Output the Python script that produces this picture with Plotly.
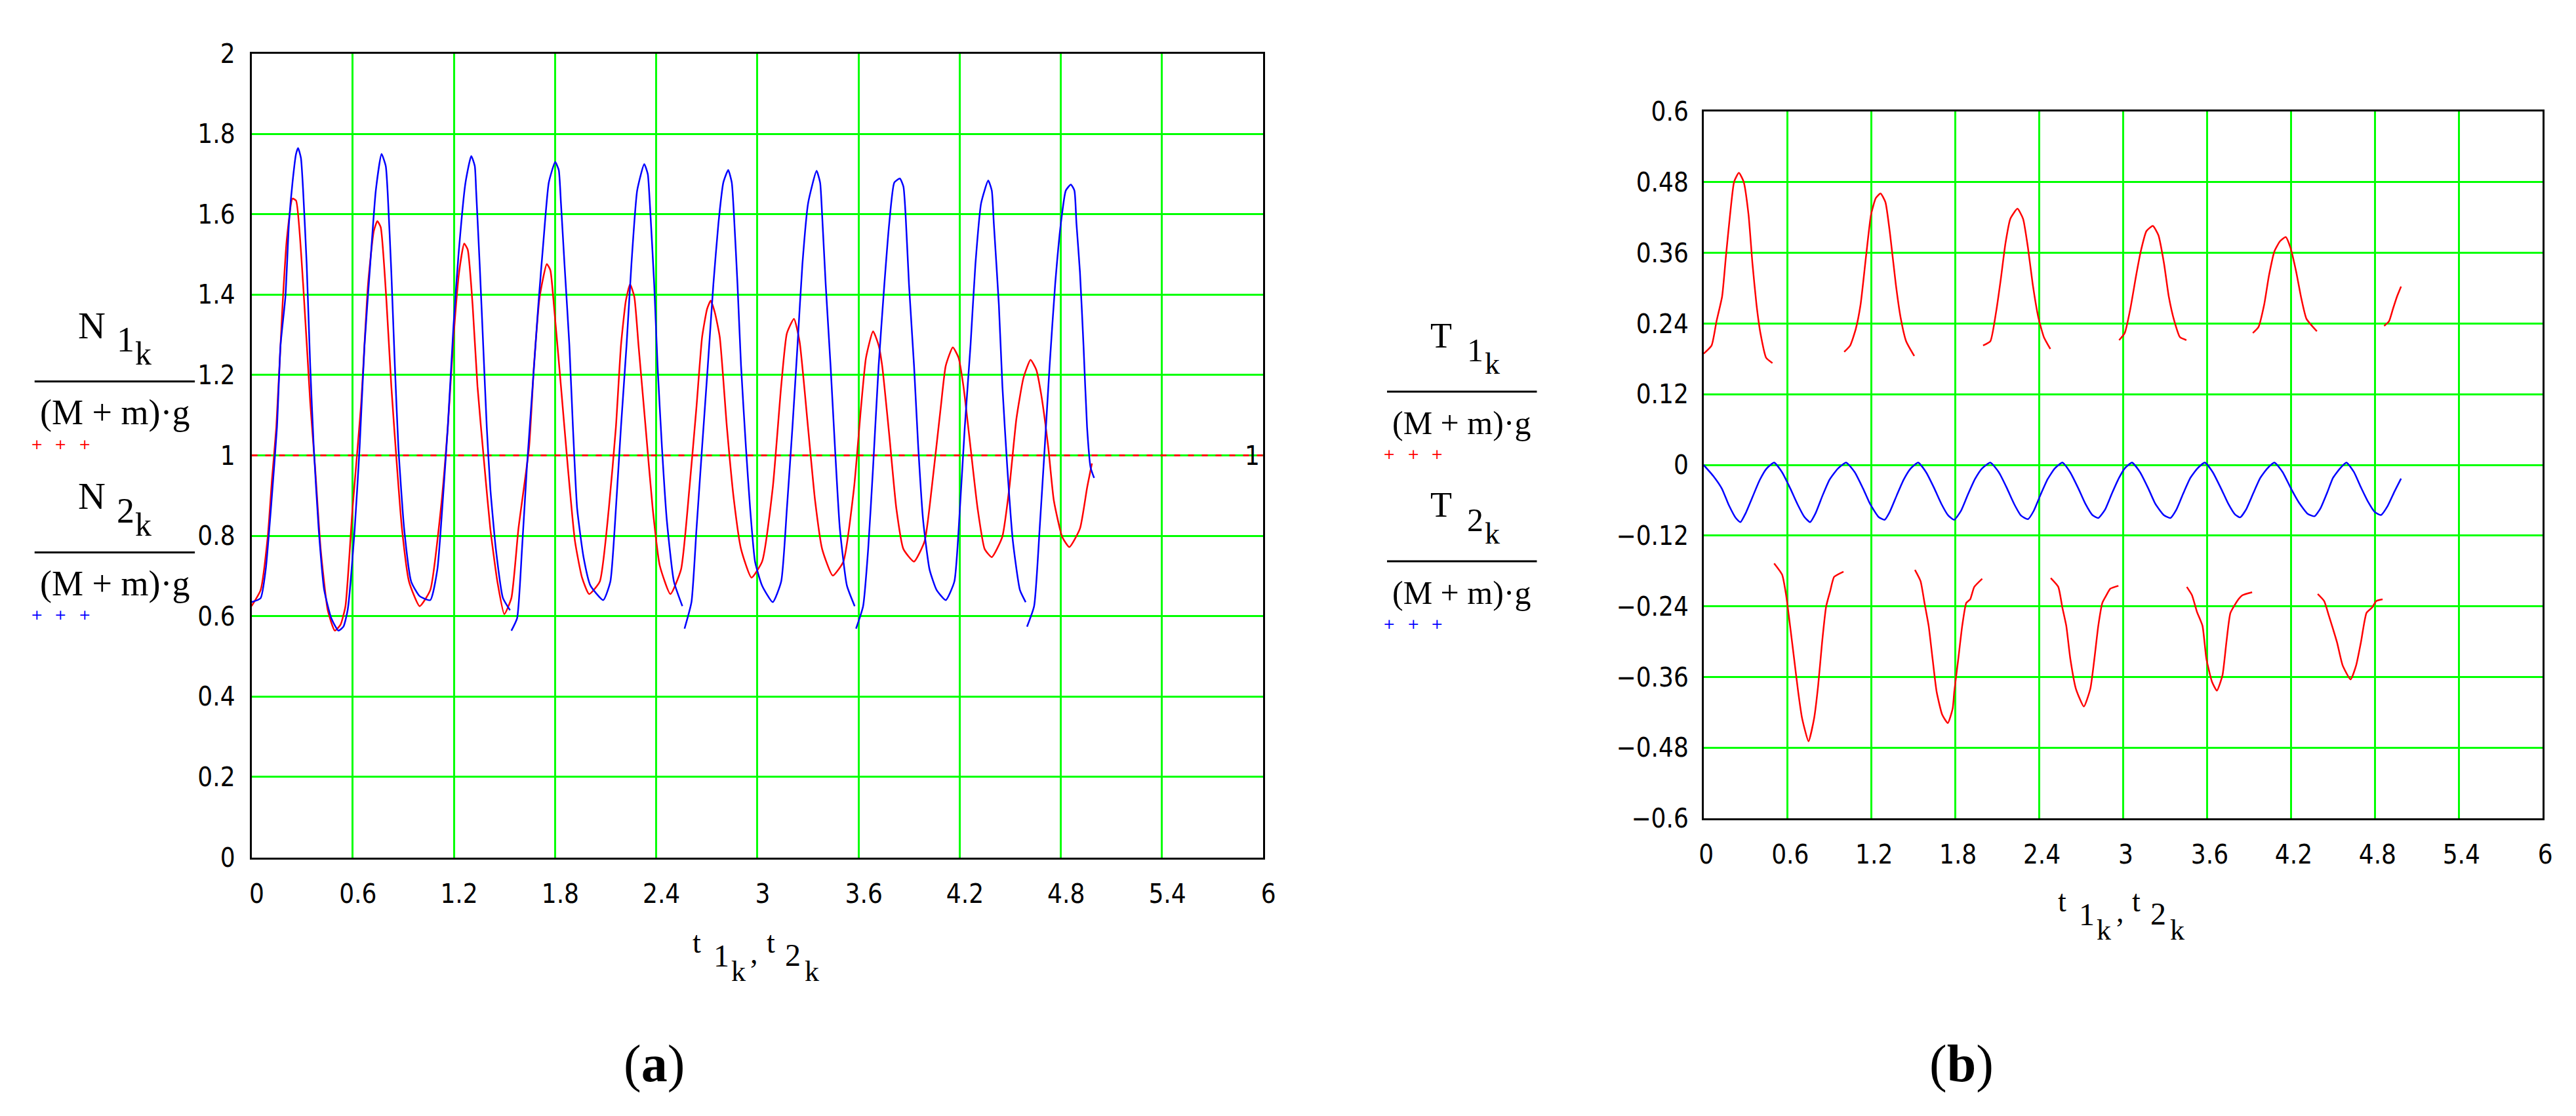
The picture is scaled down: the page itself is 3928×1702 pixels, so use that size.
import plotly.graph_objects as go

# ---------------- data ----------------
# panel (a): N1/((M+m)g)  (red)
t_n1 = [0.000, 0.054, 0.096, 0.121, 0.147, 0.184, 0.209, 0.243, 0.264, 0.306, 0.348, 0.377, 0.410, 0.452, 0.494,
        0.528, 0.557, 0.599, 0.649, 0.691, 0.725, 0.746, 0.766, 0.800, 0.829, 0.863, 0.892, 0.934, 0.997,
        1.060, 1.123, 1.164, 1.198, 1.231, 1.261, 1.282, 1.311, 1.340, 1.382, 1.416, 1.458, 1.499,
        1.541, 1.583, 1.646, 1.675, 1.709, 1.751, 1.772, 1.793, 1.835, 1.876, 1.918, 1.960, 2.002,
        2.065, 2.119, 2.161, 2.191, 2.220, 2.245, 2.270, 2.295, 2.337, 2.379, 2.421, 2.484,
        2.547, 2.597, 2.639, 2.672, 2.702, 2.723, 2.748, 2.777, 2.819, 2.861, 2.903, 2.965,
        3.028, 3.091, 3.141, 3.175, 3.217, 3.250, 3.300, 3.342, 3.384, 3.447,
        3.510, 3.573, 3.615, 3.644, 3.686, 3.719, 3.740, 3.782, 3.824, 3.866, 3.929,
        3.992, 4.034, 4.088, 4.117, 4.159, 4.193, 4.222, 4.264, 4.306, 4.348, 4.390,
        4.452, 4.494, 4.536, 4.578, 4.620, 4.654, 4.683, 4.725, 4.758, 4.808, 4.850,
        4.913, 4.955, 4.984]
n1 = [0.625, 0.665, 0.797, 0.939, 1.071, 1.375, 1.537, 1.639, 1.634, 1.426, 1.132, 0.970, 0.767, 0.615, 0.564,
      0.579, 0.625, 0.868, 1.122, 1.426, 1.558, 1.583, 1.568, 1.385, 1.172, 0.970, 0.818, 0.686, 0.625,
      0.665, 0.868, 1.071, 1.294, 1.456, 1.527, 1.512, 1.375, 1.172, 0.970, 0.818, 0.686, 0.605,
      0.645, 0.818, 1.020, 1.223, 1.395, 1.476, 1.461, 1.375, 1.172, 0.970, 0.787, 0.696, 0.655,
      0.686, 0.868, 1.071, 1.274, 1.385, 1.426, 1.395, 1.274, 1.071, 0.868, 0.726, 0.655,
      0.716, 0.919, 1.122, 1.294, 1.365, 1.385, 1.355, 1.294, 1.071, 0.888, 0.767, 0.696,
      0.736, 0.919, 1.172, 1.304, 1.340, 1.284, 1.071, 0.888, 0.767, 0.701,
      0.736, 0.919, 1.122, 1.243, 1.309, 1.274, 1.223, 1.051, 0.868, 0.767, 0.736,
      0.787, 0.919, 1.122, 1.223, 1.269, 1.243, 1.172, 1.020, 0.868, 0.767, 0.747,
      0.797, 0.919, 1.091, 1.193, 1.238, 1.213, 1.152, 1.020, 0.888, 0.797, 0.772,
      0.818, 0.919, 0.980]

# panel (a): N2/((M+m)g)  (blue, None = break in the curve)
t_n2 = [0.000, 0.054, 0.084, 0.117, 0.151, 0.172, 0.201, 0.222, 0.243, 0.264, 0.276, 0.293, 0.306, 0.327, 0.348,
        0.369, 0.398, 0.431, 0.473, 0.515, 0.545, 0.570, 0.612, 0.641, 0.670, 0.704, 0.737, 0.771, 0.796,
        0.808, 0.829, 0.850, 0.871, 0.905, 0.947, 0.997, 1.060, 1.102, 1.131, 1.164, 1.198, 1.227, 1.269,
        1.303, 1.324, 1.332, 1.353, 1.374, 1.395, 1.416, 1.449, 1.491, 1.533, None,
        1.541, 1.575, 1.604, 1.633, 1.667, 1.701, 1.730, 1.763, 1.801, 1.822, 1.835, 1.856, 1.885, 1.906,
        1.931, 1.969, 2.010, 2.086, 2.128, 2.161, 2.191, 2.224, 2.253, 2.287, 2.329, 2.350, 2.362, 2.388,
        2.408, 2.434, 2.463, 2.505, 2.555, None,
        2.568, 2.609, 2.639, 2.672, 2.706, 2.739, 2.769, 2.798, 2.827, 2.848, 2.861, 2.882, 2.903, 2.932,
        2.957, 2.986, 3.028, 3.091, 3.141, 3.175, 3.208, 3.238, 3.267, 3.301, 3.351, 3.372, 3.384, 3.405,
        3.434, 3.460, 3.489, 3.531, 3.577, None,
        3.585, 3.627, 3.657, 3.686, 3.719, 3.753, 3.782, 3.812, 3.845, 3.866, 3.879, 3.899, 3.929, 3.954,
        3.983, 4.021, 4.063, 4.117, 4.168, 4.201, 4.230, 4.264, 4.293, 4.327, 4.369, 4.390, 4.402, 4.432,
        4.453, 4.482, 4.515, 4.557, 4.591, None,
        4.599, 4.641, 4.674, 4.704, 4.733, 4.766, 4.800, 4.829, 4.859, 4.880, 4.892, 4.913, 4.934, 4.955,
        4.976, 4.997]
n2 = [0.635, 0.645, 0.716, 0.878, 1.071, 1.274, 1.395, 1.578, 1.679, 1.750, 1.765, 1.740, 1.659, 1.476, 1.223,
      1.020, 0.818, 0.665, 0.595, 0.564, 0.574, 0.615, 0.818, 1.020, 1.274, 1.476, 1.659, 1.750, 1.720,
      1.649, 1.456, 1.223, 1.020, 0.818, 0.686, 0.650, 0.640, 0.716, 0.868, 1.071, 1.324, 1.497, 1.679,
      1.745, 1.720, 1.659, 1.476, 1.274, 1.071, 0.919, 0.767, 0.645, 0.615, None,
      0.564, 0.595, 0.767, 0.970, 1.172, 1.375, 1.527, 1.679, 1.730, 1.710, 1.628, 1.476, 1.274, 1.071,
      0.868, 0.747, 0.676, 0.640, 0.686, 0.868, 1.071, 1.274, 1.476, 1.659, 1.725, 1.700, 1.628, 1.426,
      1.223, 1.020, 0.838, 0.686, 0.625, None,
      0.569, 0.635, 0.818, 1.020, 1.223, 1.426, 1.578, 1.679, 1.710, 1.679, 1.598, 1.426, 1.223, 1.020,
      0.868, 0.736, 0.676, 0.635, 0.686, 0.868, 1.071, 1.274, 1.476, 1.628, 1.708, 1.679, 1.598, 1.426,
      1.223, 1.020, 0.818, 0.676, 0.625, None,
      0.569, 0.625, 0.767, 0.970, 1.223, 1.426, 1.578, 1.679, 1.689, 1.669, 1.598, 1.426, 1.223, 1.020,
      0.838, 0.716, 0.665, 0.640, 0.686, 0.868, 1.071, 1.274, 1.476, 1.628, 1.684, 1.659, 1.578, 1.375,
      1.172, 0.970, 0.787, 0.665, 0.635, None,
      0.574, 0.625, 0.818, 1.020, 1.223, 1.426, 1.578, 1.659, 1.674, 1.659, 1.578, 1.456, 1.274, 1.071,
      0.970, 0.944]

# panel (a): reference level marker
ref_t = [0, 6]
ref_v = [1, 1]
ref_label = "1"

# panel (b): T1/((M+m)g)  (red, segmented)
t_t1 = [0.000, 0.057, 0.092, 0.132, 0.160, 0.189, 0.218, 0.252, 0.286, 0.321, 0.349, 0.378, 0.406, 0.447, 0.492, None,
        0.504, 0.561, 0.590, 0.618, 0.647, 0.676, 0.704, 0.750, 0.790, 0.819, 0.847, 0.876, 0.905, 0.933, 1.000, None,
        1.005, 1.048, 1.088, 1.122, 1.162, 1.197, 1.231, 1.265, 1.300, 1.334, 1.374, 1.408, 1.448, 1.506, None,
        1.511, 1.551, 1.580, 1.609, 1.637, 1.666, 1.706, 1.746, 1.781, 1.792, 1.821, 1.849, 1.878, 1.906, 1.935, 1.992, None,
        1.998, 2.050, 2.090, 2.124, 2.158, 2.193, 2.244, 2.284, 2.319, 2.353, 2.393, 2.433, 2.479, None,
        2.482, 2.536, 2.565, 2.593, 2.622, 2.662, 2.719, 2.765, 2.794, 2.822, 2.851, 2.880, 2.908, 2.966, None,
        2.971, 3.011, 3.051, 3.092, 3.126, 3.166, 3.212, 3.252, 3.292, 3.326, 3.366, 3.406, 3.452, None,
        3.455, 3.492, 3.527, 3.567, 3.595, 3.635, 3.670, 3.710, 3.738, 3.767, 3.824, 3.853, 3.922, None,
        3.927, 3.967, 4.008, 4.042, 4.082, 4.122, 4.162, 4.196, 4.237, 4.271, 4.311, 4.385, None,
        4.391, 4.437, 4.471, 4.529, 4.569, 4.626, 4.666, 4.700, 4.740, 4.780, 4.809, 4.855, None,
        4.866, 4.901, 4.929, 4.958, 4.987]
t1 = [0.189, 0.203, 0.244, 0.286, 0.356, 0.425, 0.481, 0.496, 0.481, 0.425, 0.342, 0.272, 0.224, 0.182, 0.173, None,
      -0.167, -0.186, -0.221, -0.273, -0.329, -0.385, -0.430, -0.469, -0.430, -0.374, -0.301, -0.240, -0.214, -0.190, -0.181, None,
      0.192, 0.203, 0.231, 0.272, 0.356, 0.425, 0.453, 0.461, 0.446, 0.390, 0.307, 0.251, 0.210, 0.185, None,
      -0.178, -0.197, -0.235, -0.273, -0.329, -0.385, -0.424, -0.438, -0.413, -0.385, -0.329, -0.273, -0.234, -0.228, -0.207, -0.193, None,
      0.203, 0.210, 0.258, 0.314, 0.376, 0.418, 0.435, 0.418, 0.369, 0.307, 0.251, 0.217, 0.197, None,
      -0.192, -0.207, -0.242, -0.273, -0.329, -0.380, -0.410, -0.380, -0.329, -0.273, -0.234, -0.221, -0.210, -0.205, None,
      0.212, 0.224, 0.265, 0.321, 0.363, 0.397, 0.406, 0.390, 0.342, 0.286, 0.244, 0.217, 0.212, None,
      -0.207, -0.221, -0.249, -0.273, -0.329, -0.368, -0.383, -0.357, -0.301, -0.251, -0.228, -0.221, -0.216, None,
      0.224, 0.234, 0.272, 0.321, 0.363, 0.380, 0.387, 0.369, 0.328, 0.286, 0.248, 0.227, None,
      -0.219, -0.231, -0.256, -0.301, -0.340, -0.364, -0.340, -0.301, -0.251, -0.242, -0.231, -0.228, None,
      0.236, 0.244, 0.265, 0.286, 0.303]

# panel (b): T2/((M+m)g)  (blue)
t_t2 = [0.00, 0.07, 0.13, 0.18, 0.23, 0.263, 0.30, 0.35, 0.40, 0.45, 0.504,
        0.56, 0.62, 0.67, 0.72, 0.761, 0.80, 0.85, 0.90, 0.96, 1.019,
        1.08, 1.14, 1.19, 1.25, 1.294, 1.33, 1.38, 1.43, 1.48, 1.534,
        1.59, 1.65, 1.70, 1.75, 1.792, 1.84, 1.89, 1.94, 1.99, 2.05,
        2.11, 2.17, 2.22, 2.27, 2.319, 2.36, 2.41, 2.46, 2.51, 2.565,
        2.62, 2.68, 2.73, 2.78, 2.822, 2.87, 2.92, 2.97, 3.01, 3.063,
        3.12, 3.18, 3.23, 3.29, 3.338, 3.38, 3.43, 3.48, 3.53, 3.584,
        3.64, 3.70, 3.75, 3.80, 3.836, 3.88, 3.93, 3.98, 4.03, 4.082,
        4.14, 4.20, 4.26, 4.32, 4.368, 4.41, 4.46, 4.50, 4.55, 4.597,
        4.65, 4.70, 4.75, 4.80, 4.843, 4.89, 4.94, 4.987]
t2 = [0.000, -0.019, -0.040, -0.068, -0.090, -0.097, -0.082, -0.054, -0.026, -0.006, 0.004,
      -0.012, -0.040, -0.066, -0.088, -0.097, -0.082, -0.052, -0.025, -0.006, 0.004,
      -0.012, -0.040, -0.066, -0.088, -0.093, -0.080, -0.052, -0.025, -0.006, 0.004,
      -0.012, -0.040, -0.066, -0.086, -0.093, -0.078, -0.050, -0.024, -0.006, 0.004,
      -0.012, -0.040, -0.066, -0.086, -0.092, -0.078, -0.050, -0.024, -0.006, 0.004,
      -0.012, -0.040, -0.066, -0.085, -0.090, -0.076, -0.048, -0.022, -0.006, 0.004,
      -0.012, -0.040, -0.066, -0.085, -0.090, -0.076, -0.048, -0.022, -0.006, 0.004,
      -0.012, -0.040, -0.065, -0.084, -0.089, -0.075, -0.048, -0.022, -0.006, 0.004,
      -0.012, -0.040, -0.065, -0.083, -0.087, -0.074, -0.046, -0.022, -0.006, 0.004,
      -0.012, -0.038, -0.062, -0.080, -0.085, -0.070, -0.045, -0.023]

# ticks
x_ticks = [0, 0.6, 1.2, 1.8, 2.4, 3, 3.6, 4.2, 4.8, 5.4, 6]
x_labels = ["0", "0.6", "1.2", "1.8", "2.4", "3", "3.6", "4.2", "4.8", "5.4", "6"]
ya_ticks = [0, 0.2, 0.4, 0.6, 0.8, 1, 1.2, 1.4, 1.6, 1.8, 2]
ya_labels = ["0", "0.2", "0.4", "0.6", "0.8", "1", "1.2", "1.4", "1.6", "1.8", "2"]
yb_ticks = [-0.6, -0.48, -0.36, -0.24, -0.12, 0, 0.12, 0.24, 0.36, 0.48, 0.6]
yb_labels = ["\u22120.6", "\u22120.48", "\u22120.36", "\u22120.24", "\u22120.12", "0",
             "0.12", "0.24", "0.36", "0.48", "0.6"]

# ---------------- figure ----------------
W, H = 3928, 1702
RED, BLUE, GREEN = "#FF0000", "#0000FF", "#00FF00"
TICKFONT = "Liberation Sans Narrow, Arial Narrow, DejaVu Sans Condensed, Liberation Sans, sans-serif"
SERIF = "Liberation Serif, Times New Roman, serif"


def px(x):
    return x / W


def py(y):
    return 1 - y / H


fig = go.Figure()
fig.add_trace(go.Scatter(x=ref_t, y=ref_v, mode="lines", xaxis="x", yaxis="y",
                         line=dict(color=RED, width=3, dash="9px,12px"), hoverinfo="skip"))
fig.add_trace(go.Scatter(x=t_n1, y=n1, mode="lines", xaxis="x", yaxis="y", connectgaps=False,
                         line=dict(color=RED, width=2.5, shape="spline", smoothing=0.5)))
fig.add_trace(go.Scatter(x=t_n2, y=n2, mode="lines", xaxis="x", yaxis="y", connectgaps=False,
                         line=dict(color=BLUE, width=2.5, shape="spline", smoothing=0.5)))
fig.add_trace(go.Scatter(x=t_t1, y=t1, mode="lines", xaxis="x2", yaxis="y2", connectgaps=False,
                         line=dict(color=RED, width=2.5, shape="spline", smoothing=0.5)))
fig.add_trace(go.Scatter(x=t_t2, y=t2, mode="lines", xaxis="x2", yaxis="y2", connectgaps=False,
                         line=dict(color=BLUE, width=2.5, shape="spline", smoothing=0.5)))

common = dict(showgrid=True, gridcolor=GREEN, gridwidth=3, showline=True, linecolor="black",
              linewidth=3, mirror=True, zeroline=False, ticks="", tickmode="array",
              tickfont=dict(family=TICKFONT, size=40, color="black"), fixedrange=True)

fig.update_layout(
    width=W, height=H, margin=dict(l=0, r=0, t=0, b=0),
    paper_bgcolor="white", plot_bgcolor="white", showlegend=False,
    xaxis=dict(common, domain=[px(371), px(1924)], range=[0, 6], anchor="y",
               tickvals=x_ticks, ticktext=x_labels, ticklabelstandoff=18, ticklabelshift=8),
    yaxis=dict(common, domain=[py(1312), py(52)], range=[0, 2], anchor="x",
               tickvals=ya_ticks, ticktext=ya_labels, ticklabelstandoff=14),
    xaxis2=dict(common, domain=[px(2600), px(3888)], range=[0, 6], anchor="y2",
                tickvals=x_ticks, ticktext=x_labels, ticklabelstandoff=18, ticklabelshift=4),
    yaxis2=dict(common, domain=[py(1251), py(143)], range=[-0.6, 0.6], anchor="x2",
                tickvals=yb_ticks, ticktext=yb_labels, ticklabelstandoff=12),
)

ann = []


def txt(s, x, y, size, color="black", family=SERIF):
    ann.append(dict(text=s, x=px(x), y=py(y), xref="paper", yref="paper", showarrow=False,
                    xanchor="center", yanchor="middle",
                    font=dict(family=family, size=size, color=color)))


shapes = []


def hline(x0, x1, y):
    shapes.append(dict(type="line", xref="paper", yref="paper", x0=px(x0), x1=px(x1),
                       y0=py(y), y1=py(y), line=dict(color="black", width=3)))


dy_block = {"N": 268, "T": 266}


def ytitle(letter, x0, x1, yt, dx, size):
    # two stacked fractions with legend dots
    for i, (idx, col) in enumerate([("1", RED), ("2", BLUE)]):
        off = i * dy_block[letter]
        txt(letter, x0 + dx, yt + off, size + 4)
        txt(idx, x0 + dx + 52, yt + 23 + off, size)
        txt("k", x0 + dx + 79, yt + 44 + off, size - 4)
        hline(x0, x1, yt + 88 + off)
        txt("(M + m)\u00b7g", (x0 + x1) / 2, yt + 137 + off, size)
        for k in range(3):
            txt("+", x0 + 3 + 37 * k, yt + 186 + off, 22, col, "DejaVu Sans")


ytitle("N", 38, 284, 478, 88, 54)
ytitle("T", 2114, 2344, 494, 83, 50)


def xtitle(xc, yc):
    parts = [("t", -92, -20, 46), ("1", -54, 0, 48), ("k", -28, 25, 44), (",", -3, -4, 46),
             ("t", 22, -20, 46), ("2", 56, -1, 48), ("k", 85, 25, 44)]
    for s, dx, dy, sz in parts:
        txt(s, xc + dx, yc + dy, sz)


xtitle(1146, 1466)
xtitle(3242, 1401)

txt("(<b>a</b>)", 989, 1636, 80)
txt("(<b>b</b>)", 2996, 1636, 80)

# level label next to dashed line
ann.append(dict(text=ref_label, x=5.934, y=ref_v[0], xref="x", yref="y", showarrow=False,
                xanchor="center", yanchor="middle", font=dict(family=TICKFONT, size=40, color="black")))

fig.update_layout(annotations=ann, shapes=shapes)
fig.write_html("out.html")
